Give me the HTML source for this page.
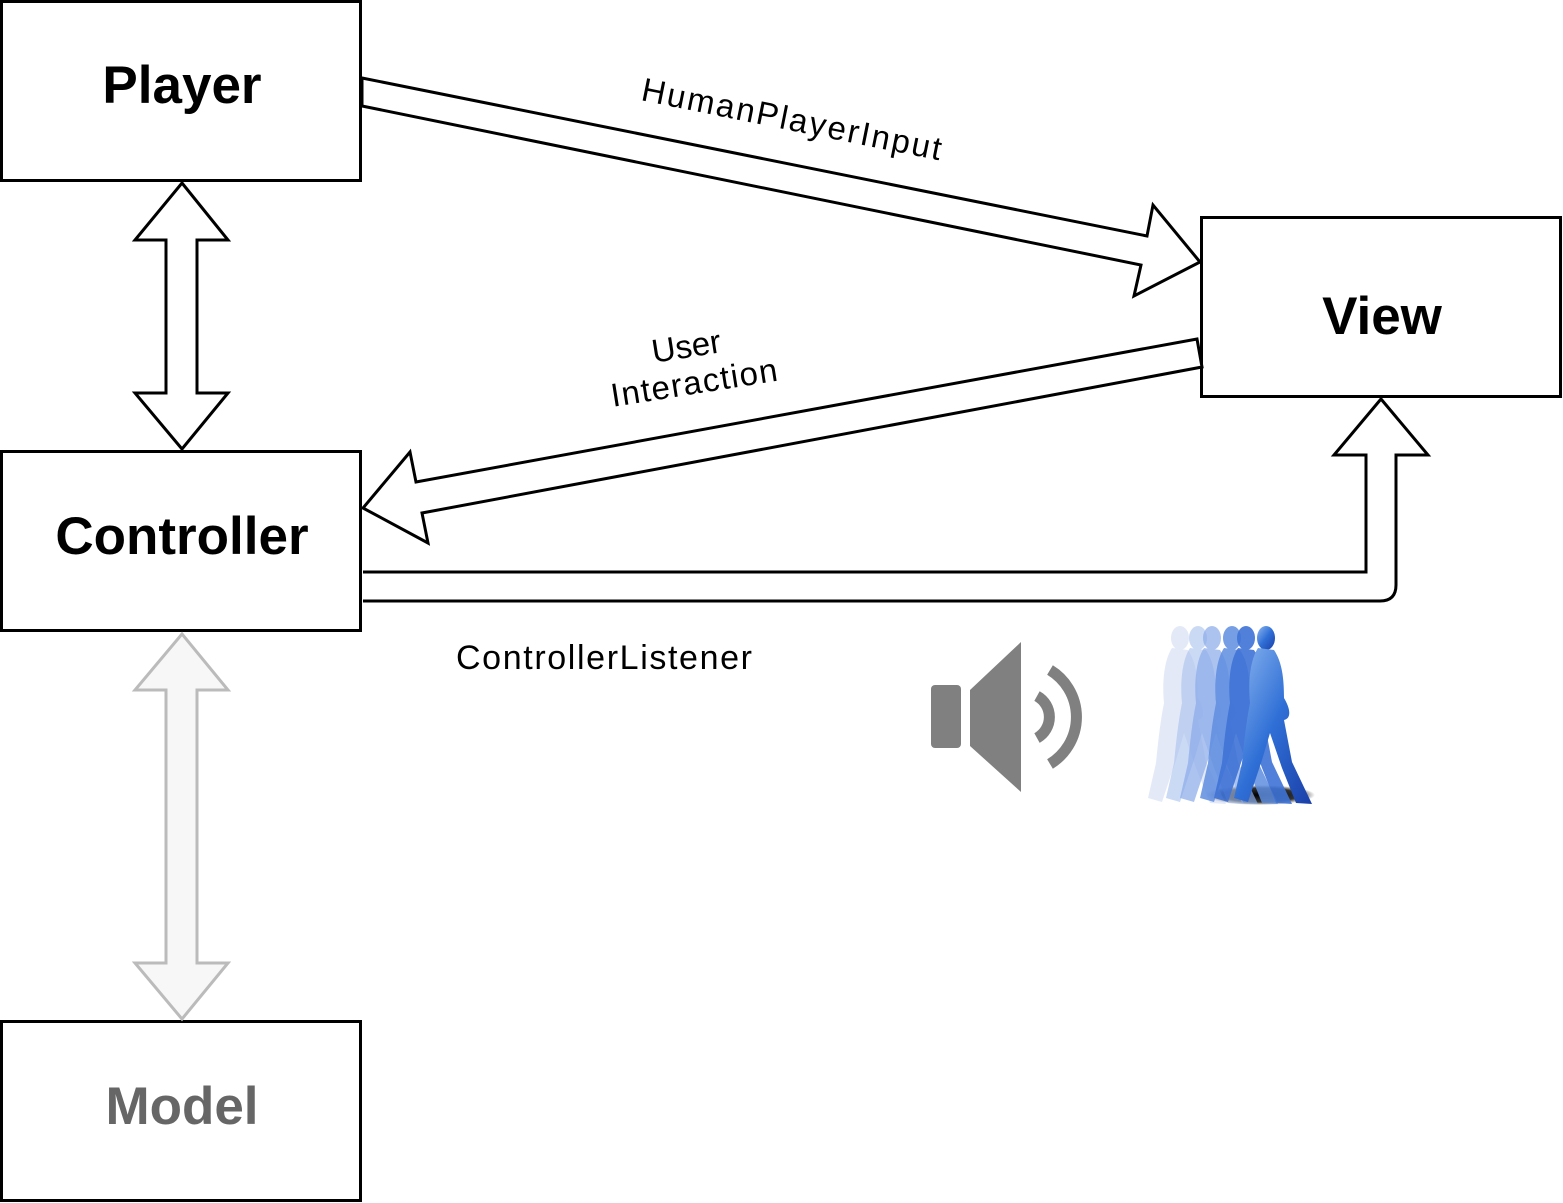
<!DOCTYPE html>
<html><head><meta charset="utf-8"><style>
html,body{margin:0;padding:0;background:#fff;}
svg{display:block;}
text{font-family:"Liberation Sans",Arial,sans-serif;}
</style></head><body>
<svg width="1563" height="1203" viewBox="0 0 1563 1203" xmlns="http://www.w3.org/2000/svg">
<defs>
<radialGradient id="sh" cx="0.5" cy="0.5" r="0.5"><stop offset="0" stop-color="#000"/><stop offset="0.7" stop-color="#000" stop-opacity="0.8"/><stop offset="1" stop-color="#000" stop-opacity="0"/></radialGradient>
<linearGradient id="bl" x1="0" y1="0" x2="1" y2="1"><stop offset="0" stop-color="#8fb8f0"/><stop offset="0.5" stop-color="#2f6fd6"/><stop offset="1" stop-color="#1a3fa8"/></linearGradient>
<g id="walker">
<ellipse cx="0" cy="0" rx="9" ry="12"/>
<path d="M-8,10 C-16,22 -18,45 -16,65 C-20,85 -22,105 -24,125 L-32,160 L-18,164 L-4,122 L4,95 L16,130 L30,165 L46,166 L26,124 L18,82 C26,80 24,70 18,60 C18,40 16,24 8,12 Z"/>
</g>
</defs>
<rect x="1.5" y="1.5" width="359" height="179" fill="#fff" stroke="#000" stroke-width="3"/>
<rect x="1201.5" y="217.5" width="359" height="179" fill="#fff" stroke="#000" stroke-width="3"/>
<rect x="1.5" y="451.5" width="359" height="179" fill="#fff" stroke="#000" stroke-width="3"/>
<rect x="1.5" y="1021.5" width="359" height="179" fill="#fff" stroke="#000" stroke-width="3"/>
<text x="182" y="103" font-size="53" font-weight="bold" text-anchor="middle">Player</text>
<text x="1382" y="334" font-size="53" font-weight="bold" text-anchor="middle">View</text>
<text x="182" y="554" font-size="53" font-weight="bold" text-anchor="middle">Controller</text>
<text x="182" y="1124" font-size="53" font-weight="bold" text-anchor="middle" fill="#666">Model</text>
<polygon points="362,78 1147,236 1153,205 1200,262 1134,296 1141,265 362,106" fill="#fff" stroke="#000" stroke-width="3"/>
<polygon points="1197,339 1202,367 422,513 428,543 363,508 410,452 416,482" fill="#fff" stroke="#000" stroke-width="3"/>
<path d="M363,572 L1366,572 L1366,455 L1334,455 L1381,399 L1428,455 L1396,455 L1396,585 Q1396,601 1380,601 L363,601" fill="#fff" stroke="#000" stroke-width="3"/>
<polygon points="182,183 228,240 197,240 197,393 228,393 182,449 135,393 166,393 166,240 135,240" fill="#fff" stroke="#000" stroke-width="3"/>
<polygon points="182,634 228,690 197,690 197,963 228,963 182,1019 135,963 166,963 166,690 135,690" fill="#f7f7f7" stroke="#bbb" stroke-width="3"/>
<text x="640" y="100" font-size="33" textLength="305" transform="rotate(11.4 640 100)">HumanPlayerInput</text>
<g transform="rotate(-9 692 370)">
<text x="690" y="357" font-size="33" text-anchor="middle">User</text>
<text x="692" y="394" font-size="33" text-anchor="middle" textLength="168">Interaction</text>
</g>
<text x="456" y="669" font-size="34" textLength="296">ControllerListener</text>
<rect x="931" y="685" width="30" height="63" rx="4" fill="#808080"/>
<polygon points="970,690 1021,642 1021,792 970,746" fill="#808080"/>
<path d="M1037,696 A24,24 0 0 1 1037,738" fill="none" stroke="#808080" stroke-width="11"/>
<path d="M1050,670 A55,55 0 0 1 1050,764" fill="none" stroke="#808080" stroke-width="11"/>
<ellipse cx="1260" cy="795" rx="55" ry="10" fill="url(#sh)"/>
<g fill="#c8d4f0" opacity="0.5"><use href="#walker" transform="translate(1180,638)"/></g>
<g fill="#a8c0ee" opacity="0.6"><use href="#walker" transform="translate(1198,638)"/></g>
<g fill="#8aabea" opacity="0.7"><use href="#walker" transform="translate(1212,638)"/></g>
<g fill="#5f8ee0" opacity="0.85"><use href="#walker" transform="translate(1232,638)"/></g>
<g fill="#3f73d6" opacity="0.9"><use href="#walker" transform="translate(1246,638)"/></g>
<g fill="url(#bl)"><use href="#walker" transform="translate(1266,638)"/></g>
</svg>
</body></html>
